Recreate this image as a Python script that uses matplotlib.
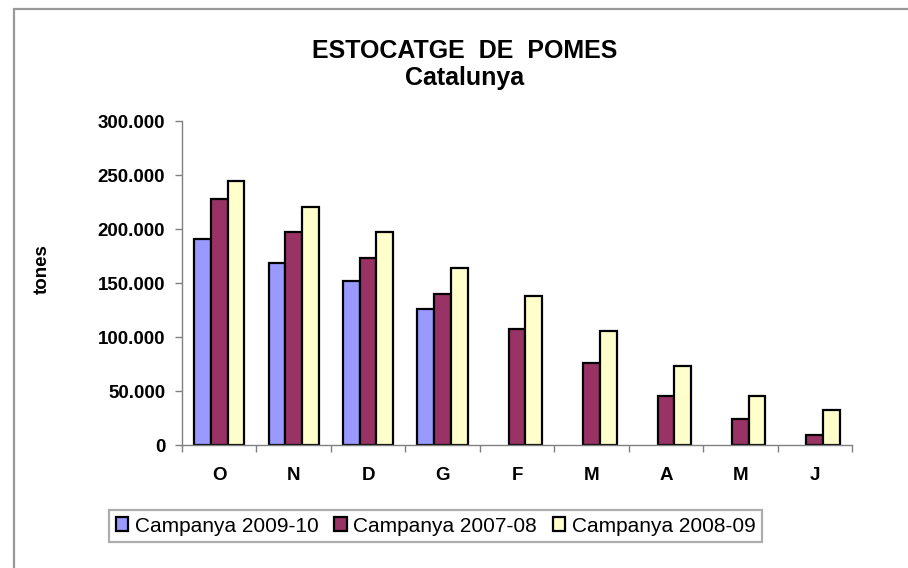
import numpy as np
import matplotlib.pyplot as plt
from matplotlib.patches import Rectangle
from matplotlib.ticker import FuncFormatter, FixedLocator

plt.rcParams['font.family'] = ['Liberation Sans', 'DejaVu Sans']

# dades (tones)
mesos = ["O", "N", "D", "G", "F", "M", "A", "M", "J"]
campanya_2009_10 = [191000, 168500, 152000, 126000, np.nan, np.nan, np.nan, np.nan, np.nan]
campanya_2007_08 = [227500, 197500, 173000, 139500, 107000, 76000, 45500, 24500, 9500]
campanya_2008_09 = [244000, 220000, 197000, 164000, 138000, 106000, 73500, 45500, 32000]
series = ["Campanya 2009-10", "Campanya 2007-08", "Campanya 2008-09"]
colors = ["#9999FF", "#993366", "#FFFFCC"]

W, H = 908, 568
fig = plt.figure(figsize=(W / 100, H / 100), dpi=100)

# vora del grafic (nomes es veuen esquerra i dalt)
fig.patches.append(Rectangle((14 / W, -0.1), 1.2, 1 - 9 / H + 0.1, transform=fig.transFigure,
                             fill=False, edgecolor="#999999", linewidth=1.6))

ax = fig.add_axes([182 / W, 1 - 445 / H, (852 - 182) / W, (445 - 121) / H])

x = np.arange(len(mesos))
bw = 0.225
dades = [campanya_2009_10, campanya_2007_08, campanya_2008_09]
for i, (vals, lab, c) in enumerate(zip(dades, series, colors)):
    ax.bar(x + (i - 1) * bw, vals, bw, color=c, edgecolor="black", linewidth=1.6, label=lab)

ax.set_xlim(-0.5, len(mesos) - 0.5)
ax.set_ylim(0, 300000)
ax.set_yticks(np.arange(0, 300001, 50000))
ax.yaxis.set_major_formatter(FuncFormatter(lambda v, p: f"{int(v):,}".replace(",", ".")))

ax.xaxis.set_major_locator(FixedLocator(np.arange(-0.5, len(mesos), 1)))
ax.xaxis.set_minor_locator(FixedLocator(x))
ax.set_xticklabels([], minor=False)
ax.set_xticklabels(mesos, minor=True)
ax.tick_params(axis="x", which="major", length=5, color="#808080", width=1)
ax.tick_params(axis="x", which="minor", length=0, pad=16, labelsize=13.5)
ax.tick_params(axis="y", length=5, color="#808080", width=1, pad=7, labelsize=13.5)
for lbl in ax.get_xticklabels(minor=True) + ax.get_yticklabels():
    lbl.set_fontweight("bold")

for s in ["top", "right"]:
    ax.spines[s].set_visible(False)
for s in ["left", "bottom"]:
    ax.spines[s].set_color("#808080")
    ax.spines[s].set_linewidth(1)

fig.text(465 / W, 1 - 51 / H, "ESTOCATGE  DE  POMES", ha="center", va="center",
         fontsize=18, fontweight="bold")
fig.text(465 / W, 1 - 78 / H, "Catalunya", ha="center", va="center",
         fontsize=18, fontweight="bold")
fig.text(42 / W, 1 - 269 / H, "tones", ha="center", va="center", rotation=90,
         fontsize=13.5, fontweight="bold")

leg = fig.legend(loc="center", bbox_to_anchor=(435.5 / W, 1 - 526 / H), ncol=3,
                 fontsize=15, frameon=True, fancybox=False, handlelength=0.62,
                 handleheight=0.62, handletextpad=0.3, columnspacing=0.75,
                 borderpad=0.3, borderaxespad=0)
leg.get_frame().set_edgecolor("#999999")
leg.get_frame().set_linewidth(1.6)

fig.savefig("out.png", dpi=100)
